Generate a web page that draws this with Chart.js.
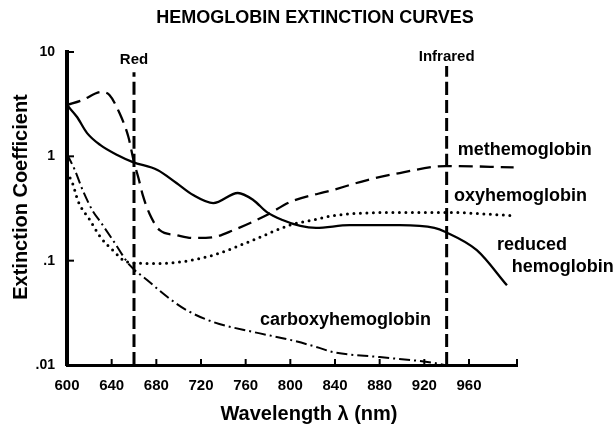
<!DOCTYPE html>
<html>
<head>
<meta charset="utf-8">
<script src="https://cdn.jsdelivr.net/npm/chart.js@4.4.1/dist/chart.umd.min.js"></script>
<style>
  html, body { margin: 0; padding: 0; background: #fff; }
  #wrap { width: 615px; height: 429px; }
</style>
</head>
<body>
<div id="wrap"><canvas id="chart" width="615" height="429"></canvas></div>
<script>
// --- DONNÉES ---
const chartTitle = 'HEMOGLOBIN EXTINCTION CURVES';
const xTitle = 'Wavelength \u03bb (nm)';
const yTitle = 'Extinction Coefficient';

const xTicks = [600, 640, 680, 720, 760, 800, 840, 880, 920, 960];
const yTicks = [0.01, 0.1, 1, 10];
const yTickLabels = ['.01', '.1', '1', '10'];

// reduced hemoglobin (trait plein)
const reducedNm = [600, 609, 618, 630, 645, 659, 681, 698, 713, 731, 753, 767, 779, 793, 809, 823, 853, 898, 929, 939, 967, 994];
const reducedVal = [3.1, 2.38, 1.67, 1.28, 1.03, 0.88, 0.74, 0.555, 0.425, 0.356, 0.445, 0.38, 0.292, 0.245, 0.215, 0.206, 0.219, 0.219, 0.206, 0.188, 0.126, 0.058];

// methemoglobin (tirets)
const metNm = [600, 614, 631, 638, 647, 655, 660, 664, 668, 674, 683, 698, 713, 731, 749, 779, 800, 838, 869, 898, 939, 1000];
const metVal = [3.1, 3.47, 4.14, 3.87, 2.6, 1.53, 0.88, 0.62, 0.42, 0.28, 0.196, 0.176, 0.165, 0.168, 0.196, 0.274, 0.365, 0.475, 0.593, 0.692, 0.807, 0.785];

// oxyhemoglobin (pointillés)
const oxyNm = [600, 605, 610, 620, 630, 641, 654, 677, 701, 731, 767, 800, 820, 838, 898, 939, 1000];
const oxyVal = [0.7, 0.55, 0.37, 0.25, 0.168, 0.126, 0.097, 0.094, 0.097, 0.113, 0.158, 0.22, 0.245, 0.27, 0.29, 0.29, 0.27];

// carboxyhemoglobin (tiret-point)
const carbNm = [600, 607, 614, 623, 630, 641, 656, 672, 690, 707, 731, 767, 800, 826, 838, 880, 928, 938];
const carbVal = [1.05, 0.74, 0.475, 0.3, 0.235, 0.158, 0.091, 0.065, 0.0448, 0.0336, 0.0258, 0.0207, 0.0174, 0.0146, 0.0133, 0.0119, 0.0105, 0.01];

// bandes Red / Infrared
const bandNames = ['Red', 'Infrared'];
const bandNm = [660, 940];
const bandTop = [6.4, 7.35];

const curveNames = ['methemoglobin', 'oxyhemoglobin', 'reduced', 'hemoglobin', 'carboxyhemoglobin'];

const toPoints = (xs, ys) => xs.map((v, i) => ({ x: v, y: ys[i] }));
const FONT = "'Liberation Sans', Arial, sans-serif";

// --- POSITIONS DES ÉTIQUETTES (coordonnées des axes) ---
const curveLabelPos = [
    { x: 950, y: 1.14 },
    { x: 946.5, y: 0.42 },
    { x: 985, y: 0.141 },
    { x: 998.4, y: 0.0877 },
    { x: 772.8, y: 0.0272 }
];
const bandLabelY = [8.4, 9.0];

// --- DESSIN DES TEXTES ET GRADUATIONS ---
const annotations = {
    id: 'annotations',
    afterDraw(chart) {
        const { ctx, scales: { x, y } } = chart;
        ctx.save();
        ctx.fillStyle = '#000';
        ctx.strokeStyle = '#000';

        // titre
        ctx.font = 'bold 18px ' + FONT;
        ctx.textAlign = 'center';
        ctx.textBaseline = 'middle';
        ctx.fillText(chartTitle, 315, 18);

        // titres des axes
        ctx.font = 'bold 20px ' + FONT;
        ctx.fillText(xTitle, 309, 414);
        ctx.save();
        ctx.translate(21, 197);
        ctx.rotate(-Math.PI / 2);
        ctx.fillText(yTitle, 0, 0);
        ctx.restore();

        // graduations vers l'intérieur
        ctx.lineWidth = 2;
        yTicks.slice(1).forEach(v => {
            const py = y.getPixelForValue(v);
            ctx.beginPath();
            ctx.moveTo(x.left, py);
            ctx.lineTo(x.left + 7, py);
            ctx.stroke();
        });
        xTicks.slice(1).concat([x.max]).forEach(v => {
            const px = x.getPixelForValue(v);
            ctx.beginPath();
            ctx.moveTo(px, y.bottom);
            ctx.lineTo(px, y.bottom - 6);
            ctx.stroke();
        });

        // Red / Infrared
        ctx.font = 'bold 15px ' + FONT;
        bandNames.forEach((name, i) => {
            ctx.fillText(name, x.getPixelForValue(bandNm[i]), y.getPixelForValue(bandLabelY[i]));
        });

        // noms des courbes
        ctx.font = 'bold 18px ' + FONT;
        ctx.textAlign = 'left';
        curveNames.forEach((name, i) => {
            const p = curveLabelPos[i];
            ctx.fillText(name, x.getPixelForValue(p.x), y.getPixelForValue(p.y));
        });
        ctx.restore();
    }
};

const lineBase = {
    pointRadius: 0,
    borderColor: '#000',
    fill: false,
    cubicInterpolationMode: 'monotone'
};

const ctx = document.getElementById('chart');
const myChart = new Chart(ctx, {
    type: 'line',
    data: {
        datasets: [
            { ...lineBase, label: 'reduced hemoglobin', data: toPoints(reducedNm, reducedVal), borderWidth: 2.3 },
            { ...lineBase, label: 'methemoglobin', data: toPoints(metNm, metVal), borderWidth: 2.3, borderDash: [14, 7] },
            { ...lineBase, label: 'oxyhemoglobin', data: toPoints(oxyNm, oxyVal), borderWidth: 3, borderDash: [0, 6.5], borderCapStyle: 'round' },
            { ...lineBase, label: 'carboxyhemoglobin', data: toPoints(carbNm, carbVal), borderWidth: 2, borderDash: [11, 4, 2, 4] },
            { ...lineBase, label: 'Red', data: [{ x: bandNm[0], y: 0.01 }, { x: bandNm[0], y: bandTop[0] }], borderWidth: 3, borderDash: [13, 5] },
            { ...lineBase, label: 'Infrared', data: [{ x: bandNm[1], y: 0.01 }, { x: bandNm[1], y: bandTop[1] }], borderWidth: 3, borderDash: [13, 5] }
        ]
    },
    options: {
        responsive: false,
        animation: false,
        devicePixelRatio: 1,
        layout: { padding: { top: 52, right: 98, bottom: 0, left: 0 } },
        plugins: {
            legend: { display: false },
            title: { display: false },
            tooltip: { enabled: false }
        },
        scales: {
            x: {
                type: 'linear',
                min: 600,
                max: 1003,
                grid: { display: false, drawTicks: false },
                border: { display: true, color: '#000', width: 3 },
                afterBuildTicks: s => { s.ticks = xTicks.map(v => ({ value: v })); },
                afterFit: s => { s.height = 64; },
                ticks: {
                    autoSkip: false,
                    maxRotation: 0,
                    padding: 12,
                    color: '#000',
                    font: { family: FONT, weight: 'bold', size: 15 }
                }
            },
            y: {
                type: 'logarithmic',
                min: 0.01,
                max: 10,
                grid: { display: false, drawTicks: false },
                border: { display: true, color: '#000', width: 4 },
                afterBuildTicks: s => { s.ticks = yTicks.map(v => ({ value: v })); },
                afterFit: s => { s.width = 67; },
                ticks: {
                    padding: 12,
                    color: '#000',
                    font: { family: FONT, weight: 'bold', size: 14 },
                    callback: v => yTickLabels[yTicks.indexOf(v)]
                }
            }
        }
    },
    plugins: [annotations]
});
</script>
</body>
</html>
